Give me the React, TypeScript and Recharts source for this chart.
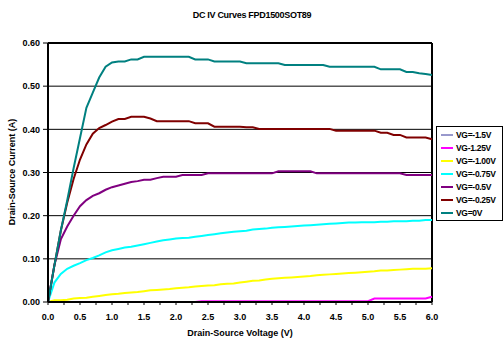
import { LineChart, Line, XAxis, YAxis, CartesianGrid, Legend, ReferenceLine, Label } from 'recharts';

const volts = [
  0, 0.1, 0.2, 0.3, 0.4, 0.5, 0.6, 0.7, 0.8, 0.9,
  1.0, 1.1, 1.2, 1.3, 1.4, 1.5, 1.6, 1.7, 1.8, 1.9,
  2.0, 2.1, 2.2, 2.3, 2.4, 2.5, 2.6, 2.7, 2.8, 2.9,
  3.0, 3.1, 3.2, 3.3, 3.4, 3.5, 3.6, 3.7, 3.8, 3.9,
  4.0, 4.1, 4.2, 4.3, 4.4, 4.5, 4.6, 4.7, 4.8, 4.9,
  5.0, 5.1, 5.2, 5.3, 5.4, 5.5, 5.6, 5.7, 5.8, 5.9,
  6.0,
];

const vgM150 = [
  0, 0, 0, 0, 0, 0, 0, 0, 0, 0,
  0, 0, 0, 0, 0, 0, 0, 0, 0, 0,
  0, 0, 0, 0, 0, 0, 0, 0, 0, 0,
  0, 0, 0, 0, 0, 0, 0, 0, 0, 0,
  0, 0, 0, 0, 0, 0, 0, 0, 0, 0,
  0, 0, 0, 0, 0, 0, 0, 0, 0, 0,
  0,
];

const vgM125 = [
  0, 0, 0, 0, 0, 0, 0, 0, 0, 0,
  0, 0, 0, 0, 0, 0, 0, 0, 0, 0,
  0, 0, 0, 0, 0.002, 0.002, 0.002, 0.002, 0.002, 0.002,
  0.002, 0.002, 0.002, 0.002, 0.002, 0.002, 0.002, 0.002, 0.002, 0.002,
  0.002, 0.002, 0.002, 0.002, 0.002, 0.002, 0.002, 0.002, 0.002, 0.002,
  0.002, 0.008, 0.008, 0.008, 0.008, 0.008, 0.008, 0.008, 0.008, 0.008,
  0.012,
];

const vgM100 = [
  0, 0.004, 0.004, 0.005, 0.008, 0.009, 0.01, 0.012, 0.014, 0.016,
  0.018, 0.019, 0.021, 0.022, 0.023, 0.025, 0.027, 0.028, 0.029, 0.03,
  0.032, 0.033, 0.034, 0.036, 0.037, 0.038, 0.039, 0.041, 0.042, 0.043,
  0.045, 0.047, 0.049, 0.05, 0.052, 0.054, 0.055, 0.056, 0.057, 0.058,
  0.059, 0.06, 0.062, 0.063, 0.064, 0.065, 0.066, 0.067, 0.068, 0.069,
  0.07, 0.071, 0.073, 0.073, 0.074, 0.075, 0.076, 0.077, 0.077, 0.077,
  0.078,
];

const vgM075 = [
  0, 0.045, 0.065, 0.077, 0.084, 0.09, 0.097, 0.102, 0.108, 0.115,
  0.12, 0.123, 0.126, 0.128, 0.131, 0.134, 0.137, 0.14, 0.143, 0.145,
  0.147, 0.148, 0.149, 0.151, 0.153, 0.155, 0.157, 0.159, 0.161, 0.163,
  0.164, 0.165, 0.168, 0.169, 0.17, 0.172, 0.173, 0.174, 0.175, 0.176,
  0.177, 0.178, 0.179, 0.18, 0.181, 0.182, 0.183, 0.184, 0.184, 0.185,
  0.185, 0.185, 0.186, 0.186, 0.187, 0.187, 0.187, 0.188, 0.188, 0.19,
  0.19,
];

const vgM050 = [
  0, 0.085, 0.145, 0.175, 0.2, 0.222, 0.236, 0.246, 0.252, 0.26,
  0.266, 0.27, 0.274, 0.278, 0.28, 0.283, 0.283, 0.287, 0.29, 0.29,
  0.29, 0.294, 0.294, 0.294, 0.294, 0.298, 0.298, 0.298, 0.298, 0.298,
  0.298, 0.298, 0.298, 0.298, 0.298, 0.298, 0.303, 0.303, 0.303, 0.303,
  0.303, 0.303, 0.298, 0.298, 0.298, 0.298, 0.298, 0.298, 0.298, 0.298,
  0.298, 0.298, 0.298, 0.298, 0.298, 0.298, 0.294, 0.294, 0.294, 0.294,
  0.294,
];

const vgM025 = [
  0, 0.085, 0.165, 0.23, 0.285, 0.33, 0.365, 0.39, 0.403, 0.41,
  0.418, 0.424, 0.424, 0.429, 0.429, 0.429, 0.425, 0.419, 0.419, 0.419,
  0.419, 0.419, 0.419, 0.414, 0.414, 0.414, 0.406, 0.406, 0.406, 0.406,
  0.406, 0.405, 0.405, 0.401, 0.401, 0.401, 0.401, 0.401, 0.401, 0.401,
  0.401, 0.401, 0.401, 0.401, 0.401, 0.397, 0.397, 0.397, 0.397, 0.397,
  0.397, 0.397, 0.392, 0.392, 0.387, 0.387, 0.381, 0.381, 0.381, 0.381,
  0.377,
];

const vg0 = [
  0, 0.085, 0.165, 0.235, 0.31, 0.38, 0.45, 0.485, 0.52, 0.545,
  0.555, 0.557, 0.557, 0.562, 0.562, 0.568, 0.568, 0.568, 0.568, 0.568,
  0.568, 0.568, 0.568, 0.562, 0.562, 0.562, 0.557, 0.557, 0.557, 0.557,
  0.557, 0.553, 0.553, 0.553, 0.553, 0.553, 0.553, 0.549, 0.549, 0.549,
  0.549, 0.549, 0.549, 0.549, 0.545, 0.545, 0.545, 0.545, 0.545, 0.545,
  0.545, 0.545, 0.539, 0.539, 0.539, 0.539, 0.533, 0.533, 0.53, 0.528,
  0.526,
];

const seriesNames = ['VG=-1.5V', 'VG-1.25V', 'VG=-1.00V', 'VG=-0.75V', 'VG=-0.5V', 'VG=-0.25V', 'VG=0V'];
const seriesColors = ['#333399', '#FF00FF', '#FFFF00', '#00FFFF', '#800080', '#800000', '#008080'];
const seriesWidths = [1, 2, 2, 2, 2, 2, 2];
const seriesValues = [vgM150, vgM125, vgM100, vgM075, vgM050, vgM025, vg0];

const xTicks = [0, 0.25, 0.5, 0.75, 1, 1.25, 1.5, 1.75, 2, 2.25, 2.5, 2.75, 3, 3.25, 3.5, 3.75, 4, 4.25, 4.5, 4.75, 5, 5.25, 5.5, 5.75, 6];
const yTicks = [0, 0.1, 0.2, 0.3, 0.4, 0.5, 0.6];

const FONT = 'Arial, "Liberation Sans", sans-serif';

const data = volts.map((v, i) => {
  const row: Record<string, number> = { v };
  seriesNames.forEach((name, k) => {
    row[name] = seriesValues[k][i];
  });
  return row;
});

// legend keeps the series order of the original, not recharts' sorted payload
const LegendBox = () => (
  <div
    style={{
      border: '1px solid #000',
      background: '#fff',
      width: 67,
      boxSizing: 'border-box',
      padding: '1px 0 1px 4px',
      fontFamily: FONT,
      fontSize: 8.5,
      fontWeight: 'bold',
      color: '#000',
    }}
  >
    {seriesNames.map((name, k) => (
      <div key={name} style={{ height: 13, display: 'flex', alignItems: 'center' }}>
        <svg width={12} height={4} style={{ marginRight: 3, flexShrink: 0 }}>
          <line x1={0} y1={2} x2={12} y2={2} stroke={seriesColors[k]} strokeWidth={seriesWidths[k]} />
        </svg>
        <span style={{ whiteSpace: 'nowrap', letterSpacing: -0.3 }}>{name}</span>
      </div>
    ))}
  </div>
);

export default function App() {
  return (
    <div style={{ position: 'absolute', left: 0, top: 0, width: 504, height: 338, background: '#fff' }}>
      <div
        style={{
          position: 'absolute',
          left: 0,
          top: 10,
          width: 504,
          textAlign: 'center',
          fontFamily: FONT,
          fontSize: 9,
          fontWeight: 'bold',
          letterSpacing: -0.3,
          color: '#000',
        }}
      >
        DC IV Curves FPD1500SOT89
      </div>
      <LineChart
        width={504}
        height={338}
        data={data}
        margin={{ top: 43, right: 72, bottom: 0, left: 0 }}
        style={{ position: 'absolute', left: 0, top: 0 }}
      >
        <CartesianGrid horizontal vertical={false} stroke="#000" strokeWidth={1} />
        <XAxis
          dataKey="v"
          type="number"
          domain={[0, 6]}
          ticks={xTicks}
          interval={0}
          height={36}
          tickFormatter={(v: number) => (Math.round(v * 100) % 50 === 0 ? v.toFixed(1) : '')}
          tickSize={3}
          tickMargin={9}
          axisLine={{ stroke: '#000', strokeWidth: 2 }}
          tickLine={{ stroke: '#000' }}
          tick={{ fill: '#000', fontSize: 9, fontWeight: 'bold', fontFamily: FONT }}
        >
          <Label
            content={() => (
              <text
                x={240}
                y={336}
                textAnchor="middle"
                fontFamily={FONT}
                fontSize={9}
                fontWeight="bold"
                fill="#000"
              >
                Drain-Source Voltage (V)
              </text>
            )}
          />
        </XAxis>
        <YAxis
          type="number"
          domain={[0, 0.6]}
          ticks={yTicks}
          interval={0}
          width={48}
          tickFormatter={(v: number) => v.toFixed(2)}
          tickSize={5}
          tickMargin={3}
          axisLine={{ stroke: '#000', strokeWidth: 2 }}
          tickLine={{ stroke: '#000' }}
          tick={{ fill: '#000', fontSize: 9, fontWeight: 'bold', fontFamily: FONT }}
        >
          <Label
            content={() => (
              <text
                x={15}
                y={172}
                transform="rotate(-90, 15, 172)"
                textAnchor="middle"
                fontFamily={FONT}
                fontSize={9}
                fontWeight="bold"
                fill="#000"
              >
                Drain-Source Current (A)
              </text>
            )}
          />
        </YAxis>
        <ReferenceLine y={0.6} stroke="#000" strokeWidth={2} />
        <ReferenceLine x={6} stroke="#000" strokeWidth={2} />
        {seriesNames.map((name, k) => (
          <Line
            key={name}
            type="linear"
            dataKey={name}
            name={name}
            stroke={seriesColors[k]}
            strokeWidth={seriesWidths[k]}
            dot={false}
            isAnimationActive={false}
          />
        ))}
        <Legend
          layout="vertical"
          align="center"
          verticalAlign="middle"
          content={LegendBox}
          wrapperStyle={{ left: 436, top: 126, width: 67 }}
        />
      </LineChart>
    </div>
  );
}
